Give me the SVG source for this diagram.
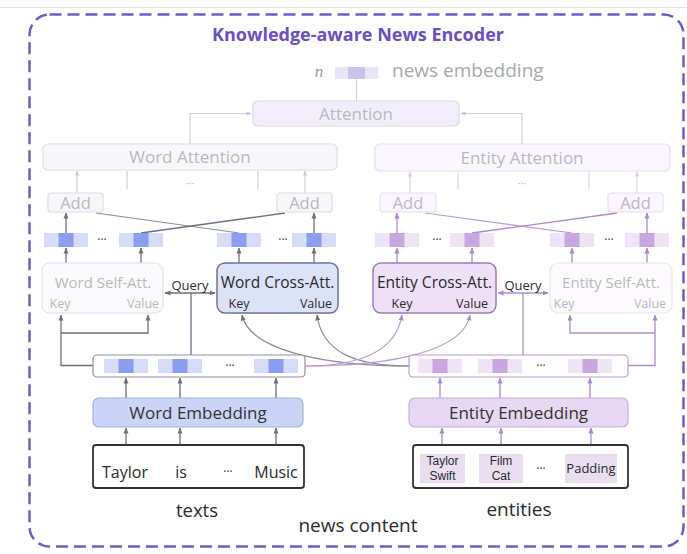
<svg xmlns="http://www.w3.org/2000/svg" width="687" height="554" viewBox="0 0 687 554">
  <defs>
    <marker id="ah-gray" viewBox="0 0 6 6" refX="5.5" refY="3" markerWidth="6" markerHeight="6" markerUnits="userSpaceOnUse" orient="auto-start-reverse">
      <path d="M0,0.5 L6,3 L0,5.5 Z" fill="#6f6f7c"/>
    </marker>
    <marker id="ah-faint" viewBox="0 0 6 6" refX="5.5" refY="3" markerWidth="5" markerHeight="5" markerUnits="userSpaceOnUse" orient="auto-start-reverse">
      <path d="M0,0.5 L6,3 L0,5.5 Z" fill="#c9c9d6"/>
    </marker>
    <marker id="ah-purple" viewBox="0 0 6 6" refX="5.5" refY="3" markerWidth="6" markerHeight="6" markerUnits="userSpaceOnUse" orient="auto-start-reverse">
      <path d="M0,0.5 L6,3 L0,5.5 Z" fill="#a988c8"/>
    </marker>
    <marker id="ah-faintp" viewBox="0 0 6 6" refX="5.5" refY="3" markerWidth="5" markerHeight="5" markerUnits="userSpaceOnUse" orient="auto-start-reverse">
      <path d="M0,0.5 L6,3 L0,5.5 Z" fill="#dccbe9"/>
    </marker>
  </defs>
  <style>
    text { font-family: "Open Sans", "Liberation Sans", sans-serif; text-anchor: middle; }
    .title { font-size: 18px; font-weight: 700; fill: #6a4fc0; }
    .faint-t { fill: #b8b8c4; }
    .dark-t { fill: #2a2a30; }
    .mid-t { fill: #333; }
    .tag { font-family: "Liberation Sans", Arial, sans-serif; font-size: 12px; fill: #2a2a30; }
    .box-faint { fill: #f7f7fb; stroke: #dcdde8; stroke-width: 1.2; }
    .box-faintp { fill: #faf6fd; stroke: #e8def0; stroke-width: 1.2; }
    .vw-l { fill: #d5dcf7; }
    .vw-d { fill: #8c9df0; }
    .ve-l { fill: #eee4f5; }
    .ve-d { fill: #c8a6e0; }
    .ln-gray { fill: none; stroke: #6f6f7c; stroke-width: 1.3; }
    .ln-faint { fill: none; stroke: #cfcfdb; stroke-width: 1.2; }
    .ln-purple { fill: none; stroke: #ad8ccc; stroke-width: 1.3; }
    .ln-faintp { fill: none; stroke: #e0d0ec; stroke-width: 1.2; }
    .ln-cross-w { fill: none; stroke: #8d8d9c; stroke-width: 1.2; }
    .ln-cross-e { fill: none; stroke: #b89ad4; stroke-width: 1.2; }
  </style>

  <rect width="687" height="554" fill="#ffffff"/>
  <!-- outer frame of the figure -->
  <line x1="0" y1="7.5" x2="687" y2="7.5" stroke="#e4e4e4" stroke-width="1"/>

  <!-- dashed encoder boundary -->
  <g id="encoder-boundary">
    <rect x="29.5" y="14.5" width="654" height="532" rx="20" fill="none" stroke="#6e5cc4" stroke-width="2.5" stroke-dasharray="12 6"/>
    <text class="title" x="358" y="41">Knowledge-aware News Encoder</text>
  </g>

  <!-- connectors -->
  <g id="connectors">
    <!-- top: attention to news embedding -->
    <path class="ln-faint" d="M356.5,101 V79"/>
    <path class="ln-faint" d="M190,144 V113.5 H251" marker-end="url(#ah-faint)"/>
    <path class="ln-faint" d="M522,144 V113.5 H461" marker-end="url(#ah-faint)"/>

    <!-- word side: Add to Word Attention -->
    <path class="ln-faint" d="M77,193 V171" marker-end="url(#ah-faint)"/>
    <path class="ln-faint" d="M305,193 V171" marker-end="url(#ah-faint)"/>
    <path class="ln-faint" d="M127,189 V171"/>
    <path class="ln-faint" d="M258,189 V171"/>
    <!-- entity side: Add to Entity Attention -->
    <path class="ln-faintp" d="M410,193 V172" marker-end="url(#ah-faintp)"/>
    <path class="ln-faintp" d="M637,193 V172" marker-end="url(#ah-faintp)"/>
    <path class="ln-faintp" d="M458,189 V172"/>
    <path class="ln-faintp" d="M589,189 V172"/>

    <!-- word vectors to Add -->
    <path class="ln-gray" d="M66,233 V213" marker-end="url(#ah-gray)"/>
    <path class="ln-gray" d="M314,233 V213" marker-end="url(#ah-gray)"/>
    <path class="ln-cross-w" d="M239,233 L96,213"/>
    <path class="ln-gray" d="M141,233 L285,213"/>
    <!-- entity vectors to Add -->
    <path class="ln-purple" d="M397,233 V213" marker-end="url(#ah-purple)"/>
    <path class="ln-purple" d="M647,233 V213" marker-end="url(#ah-purple)"/>
    <path class="ln-cross-e" d="M572,233 L425,213"/>
    <path class="ln-purple" d="M472,233 L617,213"/>

    <!-- attention blocks to output vectors -->
    <path class="ln-gray" d="M66,263 V248" marker-end="url(#ah-gray)"/>
    <path class="ln-gray" d="M141,263 V248" marker-end="url(#ah-gray)"/>
    <path class="ln-gray" d="M239,263 V248" marker-end="url(#ah-gray)"/>
    <path class="ln-gray" d="M314,263 V248" marker-end="url(#ah-gray)"/>
    <path class="ln-purple" d="M397,263 V248" marker-end="url(#ah-purple)"/>
    <path class="ln-purple" d="M472,263 V248" marker-end="url(#ah-purple)"/>
    <path class="ln-purple" d="M572,263 V248" marker-end="url(#ah-purple)"/>
    <path class="ln-purple" d="M647,263 V248" marker-end="url(#ah-purple)"/>

    <!-- queries -->
    <path class="ln-gray" d="M191,355 V293"/>
    <path class="ln-gray" d="M165,293 H215" marker-start="url(#ah-gray)" marker-end="url(#ah-gray)"/>
    <path class="ln-purple" d="M523,355 V293"/>
    <path class="ln-purple" d="M498,293 H548" marker-start="url(#ah-purple)" marker-end="url(#ah-purple)"/>

    <!-- self-attention keys and values -->
    <path class="ln-gray" d="M93,365.5 H61 V315" marker-end="url(#ah-gray)"/>
    <path class="ln-gray" d="M61,333 H148 V315" marker-end="url(#ah-gray)"/>
    <path class="ln-purple" d="M628,365.5 H655 V315" marker-end="url(#ah-purple)"/>
    <path class="ln-purple" d="M655,333 H570 V315" marker-end="url(#ah-purple)"/>

    <!-- cross-attention keys and values -->
    <path class="ln-cross-w" d="M409,366 C330,366 250,352 242,315" marker-end="url(#ah-gray)"/>
    <path class="ln-cross-w" d="M409,366 C355,366 322,352 317,315" marker-end="url(#ah-gray)"/>
    <path class="ln-cross-e" d="M305,366 C360,366 396,352 402,315" marker-end="url(#ah-purple)"/>
    <path class="ln-cross-e" d="M305,366 C395,366 464,350 470,315" marker-end="url(#ah-purple)"/>

    <!-- embeddings to rows -->
    <path class="ln-gray" d="M126,398 V378" marker-end="url(#ah-gray)"/>
    <path class="ln-gray" d="M180,398 V378" marker-end="url(#ah-gray)"/>
    <path class="ln-gray" d="M276,398 V378" marker-end="url(#ah-gray)"/>
    <path class="ln-purple" d="M440,398 V378" marker-end="url(#ah-purple)"/>
    <path class="ln-purple" d="M500,398 V378" marker-end="url(#ah-purple)"/>
    <path class="ln-purple" d="M590,398 V378" marker-end="url(#ah-purple)"/>

    <!-- inputs to embeddings -->
    <path class="ln-gray" d="M126,458 V428" marker-end="url(#ah-gray)"/>
    <path class="ln-gray" d="M180,458 V428" marker-end="url(#ah-gray)"/>
    <path class="ln-gray" d="M276,458 V428" marker-end="url(#ah-gray)"/>
    <path class="ln-purple" d="M442,454 V428" marker-end="url(#ah-purple)"/>
    <path class="ln-purple" d="M501,454 V428" marker-end="url(#ah-purple)"/>
    <path class="ln-purple" d="M591,454 V428" stroke-width="2" marker-end="url(#ah-purple)"/>
  </g>

  <!-- news embedding -->
  <g id="news-embedding">
    <text x="319" y="77" style="font-family:'Liberation Serif',serif;font-style:italic;font-size:17px;fill:#9a9aa4">n</text>
    <rect x="335" y="67" width="43" height="12" fill="#e8e5f6"/>
    <rect x="348" y="67" width="17" height="12" fill="#cbc3ec"/>
    <text x="392" y="77" style="text-anchor:start;font-size:19px;fill:#a8a8b0">news embedding</text>
  </g>

  <g id="attention">
    <rect x="253" y="101" width="206" height="25" rx="5" fill="#f1eefa" stroke="#dcd7ef" stroke-width="1.2"/>
    <text class="faint-t" x="356" y="119.5" style="font-size:17px">Attention</text>
  </g>

  <g id="word-attention">
    <rect class="box-faint" x="43" y="144" width="294" height="26" rx="5"/>
    <text class="faint-t" x="190" y="163" style="font-size:17px">Word Attention</text>
    <text class="faint-t" x="190" y="187" style="font-size:11px">···</text>
  </g>
  <g id="entity-attention">
    <rect class="box-faintp" x="375" y="144" width="295" height="27" rx="5"/>
    <text class="faint-t" x="522" y="164" style="font-size:17px">Entity Attention</text>
    <text class="faint-t" x="522" y="187" style="font-size:11px">···</text>
  </g>

  <g id="word-add-1">
    <rect class="box-faint" x="48" y="193" width="55" height="19" rx="3"/>
    <text class="faint-t" x="75.5" y="209" style="font-size:16.5px">Add</text>
  </g>
  <g id="word-add-2">
    <rect class="box-faint" x="277" y="193" width="55" height="19" rx="3"/>
    <text class="faint-t" x="304.5" y="209" style="font-size:16.5px">Add</text>
  </g>
  <g id="entity-add-1">
    <rect class="box-faintp" x="380" y="193" width="56" height="19" rx="3"/>
    <text class="faint-t" x="408" y="209" style="font-size:16.5px">Add</text>
  </g>
  <g id="entity-add-2">
    <rect class="box-faintp" x="608" y="193" width="55" height="19" rx="3"/>
    <text class="faint-t" x="635.5" y="209" style="font-size:16.5px">Add</text>
  </g>

  <!-- attended word vectors -->
  <g id="word-outputs">
    <rect class="vw-l" x="44" y="233" width="44" height="14"/><rect class="vw-d" x="58.5" y="233" width="15" height="14"/>
    <rect class="vw-l" x="119" y="233" width="44" height="14"/><rect class="vw-d" x="133.5" y="233" width="15" height="14"/>
    <rect class="vw-l" x="217" y="233" width="44" height="14"/><rect class="vw-d" x="231.5" y="233" width="15" height="14"/>
    <rect class="vw-l" x="292" y="233" width="44" height="14"/><rect class="vw-d" x="306.5" y="233" width="15" height="14"/>
    <text class="mid-t" x="102" y="244" style="font-size:12px">···</text>
    <text class="mid-t" x="283" y="244" style="font-size:12px">···</text>
  </g>
  <!-- attended entity vectors -->
  <g id="entity-outputs">
    <rect class="ve-l" x="375" y="233" width="44" height="14"/><rect class="ve-d" x="389.5" y="233" width="15" height="14"/>
    <rect class="ve-l" x="450" y="233" width="44" height="14"/><rect class="ve-d" x="464.5" y="233" width="15" height="14"/>
    <rect class="ve-l" x="550" y="233" width="44" height="14"/><rect class="ve-d" x="564.5" y="233" width="15" height="14"/>
    <rect class="ve-l" x="625" y="233" width="44" height="14"/><rect class="ve-d" x="639.5" y="233" width="15" height="14"/>
    <text class="mid-t" x="437" y="244" style="font-size:12px">···</text>
    <text class="mid-t" x="609" y="244" style="font-size:12px">···</text>
  </g>

  <g id="word-self-att">
    <rect x="42" y="263" width="121" height="50" rx="8" fill="#fafafc" stroke="#e0e1ea" stroke-width="1.2"/>
    <text class="faint-t" x="103" y="288" style="font-size:15px">Word Self-Att.</text>
    <text class="faint-t" x="60" y="308" style="font-size:12.5px">Key</text>
    <text class="faint-t" x="143" y="308" style="font-size:12.5px">Value</text>
  </g>
  <g id="word-cross-att">
    <rect x="217" y="263" width="121" height="50" rx="8" fill="#dce3f9" stroke="#6d7390" stroke-width="1.5"/>
    <text class="dark-t" x="277.5" y="288" style="font-size:15.5px">Word Cross-Att.</text>
    <text class="dark-t" x="239" y="308" style="font-size:12.5px">Key</text>
    <text class="dark-t" x="316" y="308" style="font-size:12.5px">Value</text>
  </g>
  <text class="dark-t" x="190" y="290" style="font-size:13px">Query</text>

  <g id="entity-cross-att">
    <rect x="373" y="263" width="123" height="50" rx="8" fill="#eee0f7" stroke="#9a7db5" stroke-width="1.5"/>
    <text class="dark-t" x="434.5" y="288" style="font-size:15.5px">Entity Cross-Att.</text>
    <text class="dark-t" x="402" y="308" style="font-size:12.5px">Key</text>
    <text class="dark-t" x="472" y="308" style="font-size:12.5px">Value</text>
  </g>
  <text class="dark-t" x="523" y="290" style="font-size:13px">Query</text>

  <g id="entity-self-att">
    <rect x="550" y="263" width="122" height="50" rx="8" fill="#fcfafd" stroke="#ede5f3" stroke-width="1.2"/>
    <text class="faint-t" x="611" y="288" style="font-size:15px">Entity Self-Att.</text>
    <text class="faint-t" x="564" y="308" style="font-size:12.5px">Key</text>
    <text class="faint-t" x="650" y="308" style="font-size:12.5px">Value</text>
  </g>

  <!-- embedded token rows -->
  <g id="word-vectors">
    <rect x="93" y="355" width="212" height="22" rx="4" fill="#ffffff" stroke="#8f8fa6" stroke-width="1.2"/>
    <rect class="vw-l" x="104" y="359" width="44" height="14"/><rect class="vw-d" x="118.5" y="359" width="15" height="14"/>
    <rect class="vw-l" x="158" y="359" width="44" height="14"/><rect class="vw-d" x="172.5" y="359" width="15" height="14"/>
    <rect class="vw-l" x="254" y="359" width="44" height="14"/><rect class="vw-d" x="268.5" y="359" width="15" height="14"/>
    <text class="mid-t" x="230" y="370" style="font-size:12px">···</text>
  </g>
  <g id="entity-vectors">
    <rect x="409" y="355" width="219" height="22" rx="4" fill="#ffffff" stroke="#b79bd1" stroke-width="1.2"/>
    <rect class="ve-l" x="418" y="359" width="44" height="14"/><rect class="ve-d" x="432.5" y="359" width="15" height="14"/>
    <rect class="ve-l" x="478" y="359" width="44" height="14"/><rect class="ve-d" x="492.5" y="359" width="15" height="14"/>
    <rect class="ve-l" x="568" y="359" width="44" height="14"/><rect class="ve-d" x="582.5" y="359" width="15" height="14"/>
    <text class="mid-t" x="541" y="370" style="font-size:12px">···</text>
  </g>

  <g id="word-embedding">
    <rect x="93" y="398" width="210" height="29" rx="6" fill="#cad4f6" stroke="#a5b1dd" stroke-width="1.2"/>
    <text class="mid-t" x="198" y="419" style="font-size:17px">Word Embedding</text>
  </g>
  <g id="entity-embedding">
    <rect x="409" y="398" width="219" height="29" rx="6" fill="#e6d7f2" stroke="#c7afde" stroke-width="1.2"/>
    <text class="mid-t" x="518.5" y="419" style="font-size:17px">Entity Embedding</text>
  </g>

  <g id="texts">
    <rect x="93" y="445" width="211" height="43" rx="3" fill="#ffffff" stroke="#333" stroke-width="1.8"/>
    <text class="dark-t" x="125" y="478" style="font-size:16px">Taylor</text>
    <text class="dark-t" x="181" y="478" style="font-size:16px">is</text>
    <text class="mid-t" x="228" y="476" style="font-size:12px">···</text>
    <text class="dark-t" x="276" y="478" style="font-size:16px">Music</text>
    <text class="dark-t" x="197" y="517" style="font-size:18.5px">texts</text>
  </g>
  <g id="entities">
    <rect x="413" y="445" width="215" height="43" rx="3" fill="#ffffff" stroke="#333" stroke-width="1.8"/>
    <rect x="420" y="454" width="45" height="29" fill="#e8deef"/>
    <rect x="479" y="454" width="44" height="29" fill="#e8deef"/>
    <rect x="565" y="454" width="52" height="29" fill="#e8deef"/>
    <text class="tag" x="442.5" y="465">Taylor</text>
    <text class="tag" x="442.5" y="479.5">Swift</text>
    <text class="tag" x="501" y="465">Film</text>
    <text class="tag" x="501" y="479.5">Cat</text>
    <text class="mid-t" x="541" y="473" style="font-size:12px">···</text>
    <text class="dark-t" x="591" y="473" style="font-size:13px">Padding</text>
    <text class="dark-t" x="519" y="516" style="font-size:19px">entities</text>
  </g>
  <text class="dark-t" x="358" y="532" style="font-size:19px">news content</text>
</svg>
